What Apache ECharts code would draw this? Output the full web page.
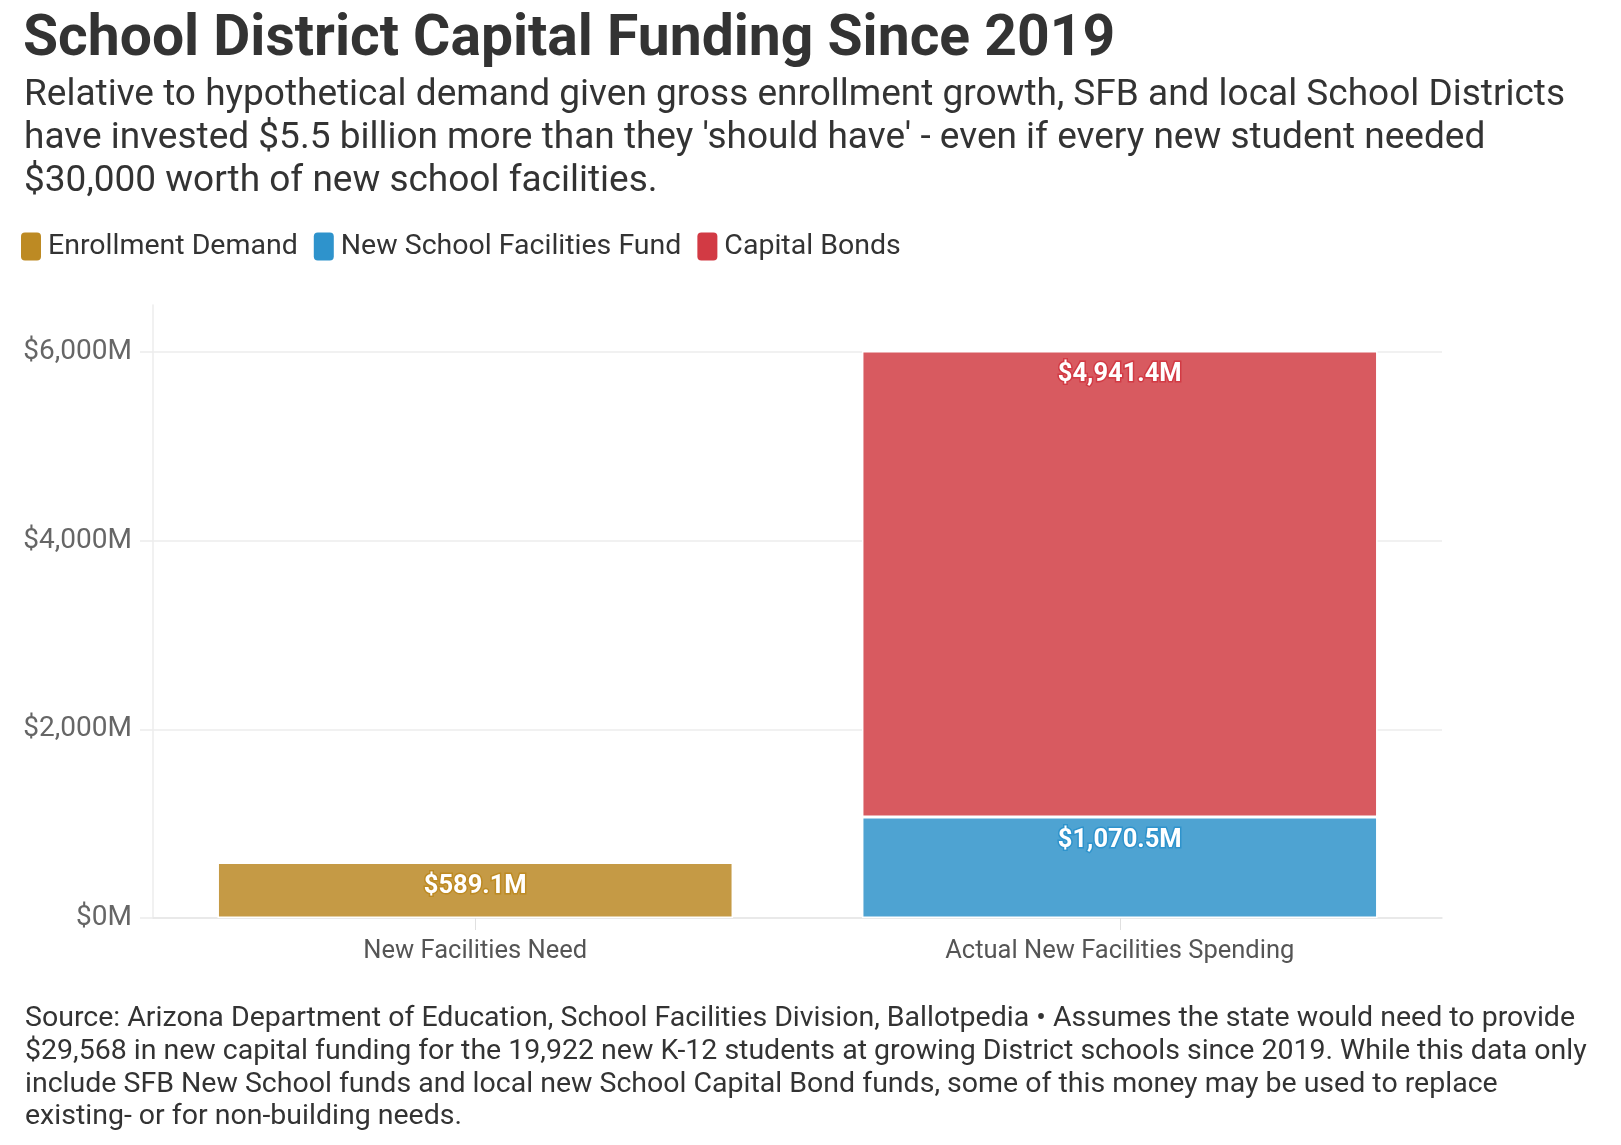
<!DOCTYPE html>
<html>
<head>
<meta charset="utf-8">
<script src="https://cdn.jsdelivr.net/npm/echarts@6/dist/echarts.min.js"></script>
<style>
html,body{margin:0;padding:0;background:#fff;}
#chart{width:1621px;height:1145px;}
</style>
</head>
<body>
<div id="chart"></div>
<script>
const categories = ['New Facilities Need', 'Actual New Facilities Spending'];
const seriesNames = ['Enrollment Demand', 'New School Facilities Fund', 'Capital Bonds'];
const enrollmentDemand = [589.1, '-'];
const newSchoolFacilitiesFund = ['-', 1070.5];
const capitalBonds = ['-', 4941.4];
const yMin = 0, yMax = 6500, yInterval = 2000;

const titleText = 'School District Capital Funding Since 2019';
const subtitleText = "Relative to hypothetical demand given gross enrollment growth, SFB and local School Districts\nhave invested $5.5 billion more than they 'should have' - even if every new student needed\n$30,000 worth of new school facilities.";
const footerText = "Source: Arizona Department of Education, School Facilities Division, Ballotpedia \u2022 Assumes the state would need to provide\n$29,568 in new capital funding for the 19,922 new K-12 students at growing District schools since 2019. While this data only\ninclude SFB New School funds and local new School Capital Bond funds, some of this money may be used to replace\nexisting- or for non-building needs.";

const baseColors = ['#bd8a23', '#2e93cc', '#d23a44'];
const barColors = ['#c59a45', '#4ea3d2', '#d85a60'];

const FONT = 'Roboto, "Noto Sans", sans-serif';
const LEGEND_ICON = 'path://M4,0 H16 A4,4 0 0 1 20,4 V24 A4,4 0 0 1 16,28 H4 A4,4 0 0 1 0,24 V4 A4,4 0 0 1 4,0 Z';

function fmtVal(v) {
  return '$' + Number(v).toLocaleString('en-US', {minimumFractionDigits: 1, maximumFractionDigits: 1}) + 'M';
}

function mkSeries(i, data) {
  return {
    name: seriesNames[i],
    type: 'bar',
    stack: 'total',
    data: data,
    barWidth: '80%',
    itemStyle: { color: barColors[i], borderColor: '#fff', borderWidth: 1.5 },
    emphasis: { disabled: true },
    label: {
      show: true,
      position: 'insideTop',
      distance: 11,
      formatter: p => fmtVal(p.value),
      color: '#fff',
      fontFamily: FONT,
      fontWeight: 'bold',
      fontSize: 25.5,
      textBorderColor: baseColors[i],
      textBorderWidth: 3
    }
  };
}

const chart = echarts.init(document.getElementById('chart'), null, {renderer: 'canvas'});
chart.setOption({
  animation: false,
  backgroundColor: '#fff',
  textStyle: { fontFamily: FONT },
  title: [
    {
      text: titleText, left: 18, top: 5,
      textStyle: { fontFamily: FONT, fontWeight: 'bold', fontSize: 57, lineHeight: 62, color: '#333' }
    },
    {
      text: subtitleText, left: 19, top: 69,
      textStyle: { fontFamily: FONT, fontWeight: 'normal', fontSize: 37, lineHeight: 43, color: '#333' }
    },
    {
      text: footerText, left: 20, top: 998,
      textStyle: { fontFamily: FONT, fontWeight: 'normal', fontSize: 28.5, lineHeight: 32.6, color: '#333' }
    }
  ],
  legend: {
    left: 21, top: 232, padding: 0,
    icon: LEGEND_ICON,
    symbolKeepAspect: false,
    itemWidth: 20, itemHeight: 28, itemGap: 16,
    selectedMode: false,
    itemStyle: { borderWidth: 0 },
    textStyle: { fontFamily: FONT, fontSize: 28.5, color: '#333', padding: [0, 0, 0, 2] },
    data: seriesNames.map((n, i) => ({ name: n, itemStyle: { color: baseColors[i], borderWidth: 0 } }))
  },
  grid: { left: 153, right: 179, top: 305, bottom: 227, containLabel: false, outerBoundsMode: 'none' },
  xAxis: {
    type: 'category',
    data: categories,
    axisLine: { lineStyle: { color: '#e6e6e6', width: 1.5 } },
    axisTick: { show: true, alignWithLabel: true, length: 12, lineStyle: { color: '#e0e0e0' } },
    axisLabel: { color: '#555', fontSize: 25.5, fontFamily: FONT, margin: 21 }
  },
  yAxis: {
    type: 'value',
    min: yMin, max: yMax, interval: yInterval,
    axisLine: { show: true, lineStyle: { color: '#ececec', width: 1.5 } },
    axisTick: { show: true, length: 13, lineStyle: { color: '#ececec', width: 1.5 } },
    splitLine: { show: true, showMaxLine: false, lineStyle: { color: '#ececec', width: 1.5 } },
    axisLabel: {
      showMaxLabel: false,
      color: '#666', fontSize: 28, fontFamily: FONT, margin: 21,
      formatter: v => '$' + v.toLocaleString('en-US') + 'M'
    }
  },
  series: [
    mkSeries(0, enrollmentDemand),
    mkSeries(1, newSchoolFacilitiesFund),
    mkSeries(2, capitalBonds)
  ]
});
</script>
</body>
</html>
